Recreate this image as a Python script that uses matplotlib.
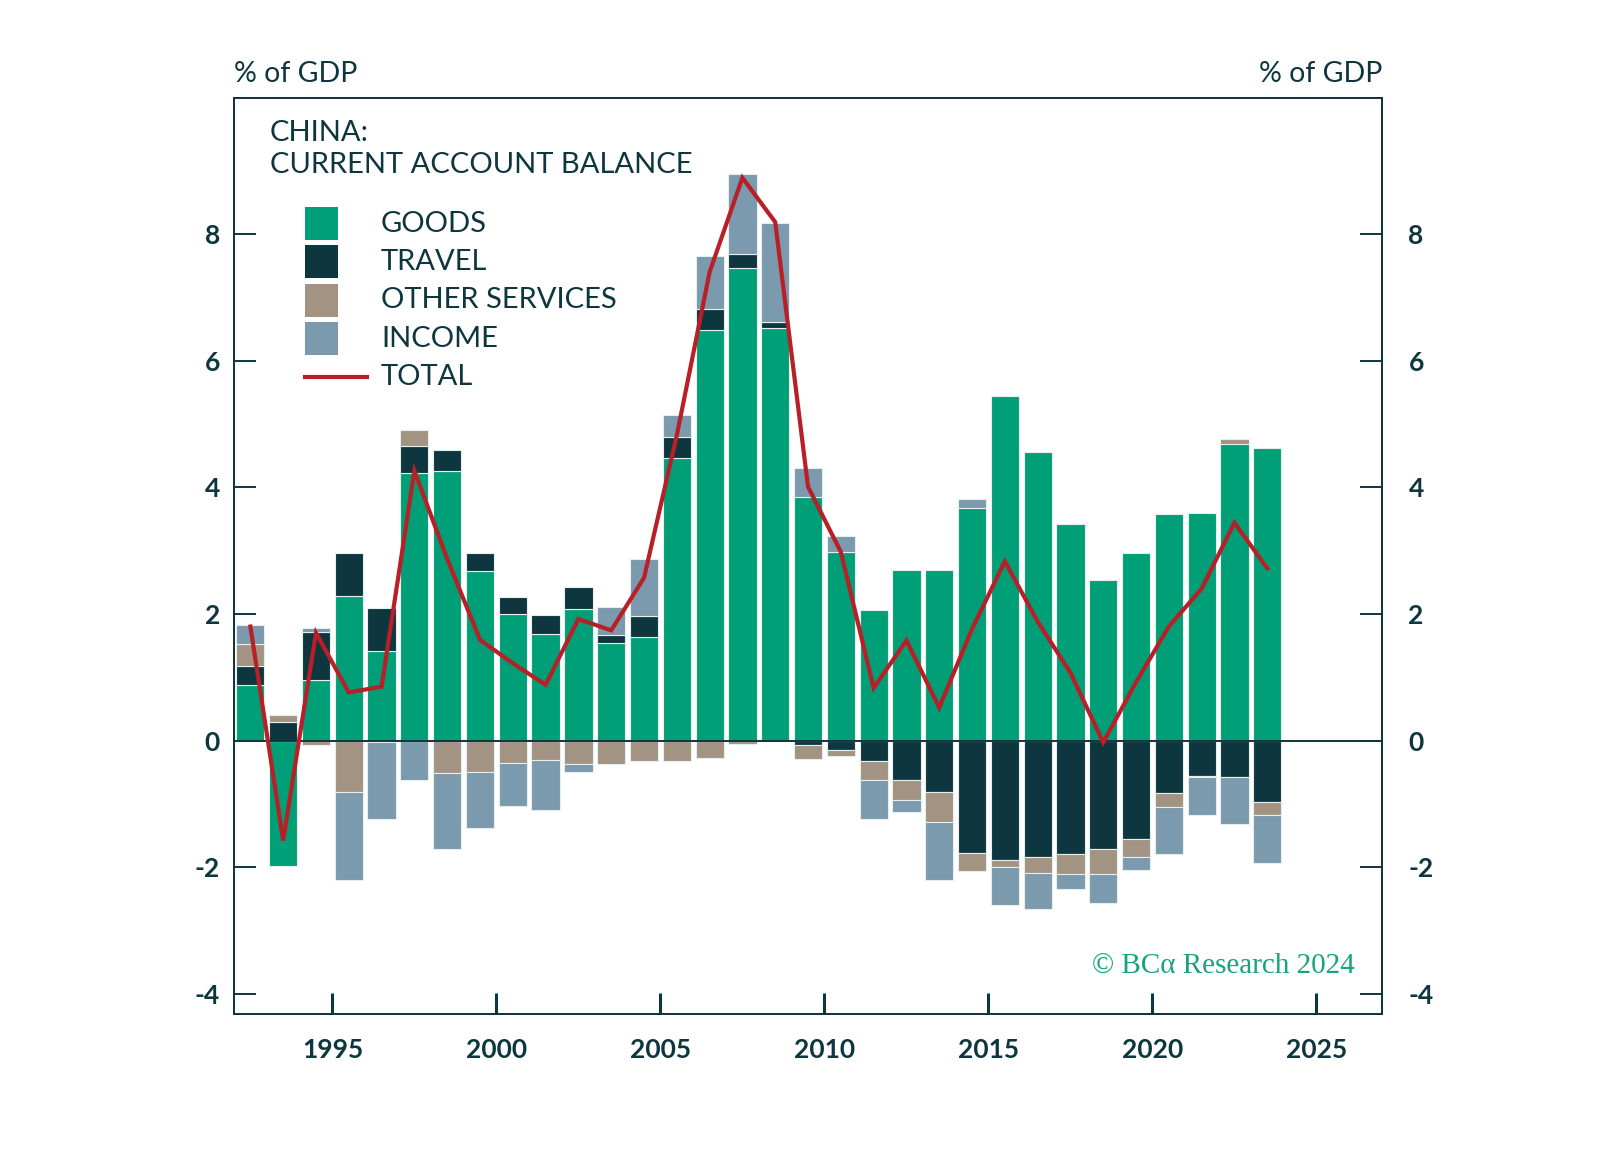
import numpy as np
import matplotlib.pyplot as plt
from matplotlib.patches import Rectangle
from matplotlib.lines import Line2D

# China current account components, % of GDP
years = np.arange(1992, 2024)
goods = [0.88, -1.99, 0.96, 2.29, 1.42, 4.23, 4.26, 2.68, 2.00, 1.69, 2.07, 1.54,
         1.64, 4.47, 6.48, 7.46, 6.51, 3.84, 2.98, 2.06, 2.70, 2.69, 3.68, 5.44,
         4.55, 3.42, 2.53, 2.96, 3.58, 3.59, 4.69, 4.62]
travel = [0.30, 0.30, 0.76, 0.68, 0.67, 0.42, 0.33, 0.29, 0.26, 0.29, 0.35, 0.13,
          0.32, 0.33, 0.34, 0.22, 0.10, -0.07, -0.15, -0.32, -0.62, -0.81, -1.77, -1.88,
          -1.84, -1.80, -1.72, -1.55, -0.83, -0.56, -0.58, -0.97]
other = [0.35, 0.11, -0.07, -0.81, -0.02, 0.25, -0.51, -0.50, -0.35, -0.31, -0.37, -0.37,
         -0.32, -0.32, -0.27, -0.05, 0.00, -0.23, -0.10, -0.31, -0.32, -0.48, -0.29, -0.12,
         -0.25, -0.31, -0.39, -0.29, -0.22, -0.02, 0.08, -0.21]
income = [0.29, 0.00, 0.05, -1.40, -1.22, -0.62, -1.21, -0.88, -0.69, -0.79, -0.12, 0.44,
          0.90, 0.34, 0.84, 1.27, 1.57, 0.47, 0.25, -0.61, -0.19, -0.91, 0.14, -0.60,
          -0.57, -0.23, -0.46, -0.20, -0.75, -0.60, -0.74, -0.75]
total = [1.80, -1.58, 1.70, 0.76, 0.85, 4.26, 2.87, 1.59, 1.22, 0.88, 1.92, 1.74,
         2.57, 4.82, 7.40, 8.89, 8.19, 4.01, 2.98, 0.83, 1.58, 0.52, 1.76, 2.83,
         1.88, 1.07, -0.03, 0.92, 1.80, 2.40, 3.44, 2.72]

series = [("GOODS", goods, "#009F77"),
          ("TRAVEL", travel, "#0E363E"),
          ("OTHER SERVICES", other, "#A39382"),
          ("INCOME", income, "#7C9AAD")]

DARK = "#0E363E"
RED = "#B81F27"
FONT = ["Lato", "DejaVu Sans"]

plt.rcParams["font.family"] = FONT
plt.rcParams["axes.unicode_minus"] = False

fig = plt.figure(figsize=(16.17, 11.6), dpi=100)
ax = fig.add_axes([0.1447, 0.1259, 0.71, 0.7896])

x = years + 0.5
pos_base = np.zeros(len(years))
neg_base = np.zeros(len(years))
for name, vals, color in series:
    v = np.array(vals)
    bottom = np.where(v >= 0, pos_base, neg_base)
    ax.bar(x, v, bottom=bottom, width=0.86, color=color,
           edgecolor="#E6EEEE", linewidth=0.8, zorder=2)
    pos_base = pos_base + np.where(v > 0, v, 0)
    neg_base = neg_base + np.where(v < 0, v, 0)

ax.plot(x, total, color=RED, lw=3.0, zorder=4, solid_joinstyle="miter")
ax.axhline(0, color=DARK, lw=1.4, zorder=3)

ax.set_xlim(1992, 2027)
ax.set_ylim(-4.32, 10.15)

ax.set_xticks(range(1995, 2030, 5))
ax.set_yticks(range(-4, 10, 2))
ax.tick_params(axis="x", direction="in", length=15, width=2.2, color=DARK,
               labelsize=19, labelcolor=DARK, pad=17)
ax.tick_params(axis="y", direction="in", length=16, width=1.4, color=DARK,
               labelsize=19, labelcolor=DARK, pad=10, left=True, right=True,
               labelleft=True, labelright=False)
for lab in ax.get_xticklabels() + ax.get_yticklabels():
    lab.set_fontweight("bold")

ax2 = ax.twinx()
ax2.set_ylim(ax.get_ylim())
ax2.set_yticks(range(-4, 10, 2))
ax2.tick_params(axis="y", direction="in", length=16, width=1.4, color=DARK,
                labelsize=19, labelcolor=DARK, pad=19)
for lab in ax2.get_yticklabels():
    lab.set_fontweight("bold")

for a in (ax, ax2):
    for sp in a.spines.values():
        sp.set_color(DARK)
        sp.set_linewidth(1.3)

ax.text(0, 1.012, "% of GDP", transform=ax.transAxes, ha="left", va="bottom",
        fontsize=20.5, color=DARK)
ax.text(1, 1.012, "% of GDP", transform=ax.transAxes, ha="right", va="bottom",
        fontsize=20.5, color=DARK)

ax.text(0.031, 0.976, "CHINA:\nCURRENT ACCOUNT BALANCE", transform=ax.transAxes,
        ha="left", va="top", fontsize=21, color=DARK, linespacing=1.3)

# legend drawn by hand to get square swatches next to a longer line sample
ly = [0.863, 0.821, 0.779, 0.737]
for (name, _, color), yy in zip(series, ly):
    ax.add_patch(Rectangle((0.062, yy - 0.018), 0.029, 0.036, transform=ax.transAxes,
                           facecolor=color, edgecolor="none", zorder=5))
    ax.text(0.128, yy, name, transform=ax.transAxes, ha="left", va="center",
            fontsize=21, color=DARK, zorder=5)
ax.add_line(Line2D([0.062, 0.116], [0.695, 0.695], transform=ax.transAxes,
                   color=RED, lw=3.0, zorder=5))
ax.text(0.128, 0.695, "TOTAL", transform=ax.transAxes, ha="left", va="center",
        fontsize=21, color=DARK, zorder=5)

ax.text(0.976, 0.038, "\u00a9 BC\u03b1 Research 2024", transform=ax.transAxes,
        ha="right", va="bottom", fontsize=21, color="#14A57A",
        family=["Liberation Serif", "DejaVu Serif"])

fig.savefig("out.png", dpi=100)
